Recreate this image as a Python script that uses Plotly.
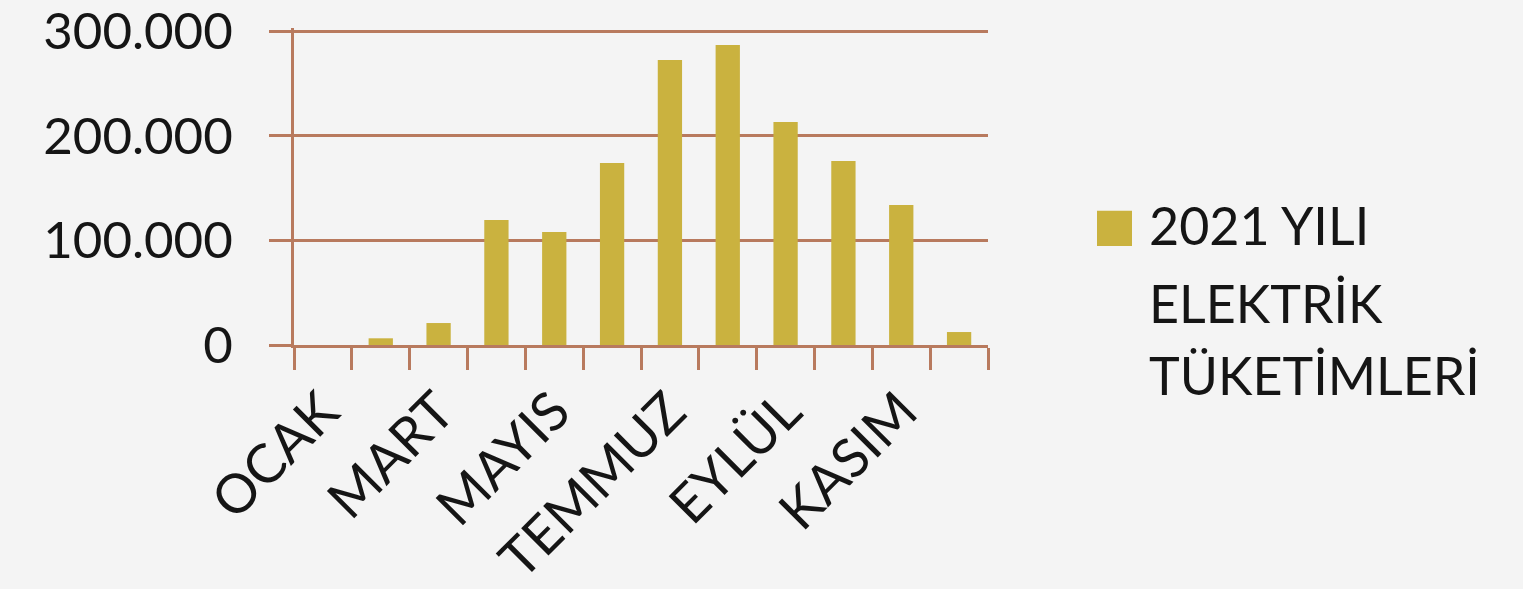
import plotly.graph_objects as go

months = ["OCAK", "ŞUBAT", "MART", "NİSAN", "MAYIS", "HAZİRAN",
          "TEMMUZ", "AĞUSTOS", "EYLÜL", "EKİM", "KASIM", "ARALIK"]
consumption = [0, 6400, 21000, 119500, 108000, 174000,
               272500, 286800, 213200, 175900, 133800, 12400]
tick_labels_x = ["OCAK", "", "MART", "", "MAYIS", "",
                 "TEMMUZ", "", "EYLÜL", "", "KASIM", ""]
y_tickvals = [0, 100000, 200000, 300000]
y_ticktext = ["0", "100.000", "200.000", "300.000"]
series_lines = ["2021 YILI", "ELEKTRİK", "TÜKETİMLERİ"]

BAR = "#CAB23F"
LINE = "#B87A5E"
BG = "#F4F4F4"
FONT = "Lato"
TXT = "#151515"

fig = go.Figure()
fig.add_trace(go.Bar(x=months, y=consumption, marker_color=BAR,
                     marker_line_width=0, name=" ".join(series_lines),
                     showlegend=False))

W, H = 1523, 589
YMAX = 303000
x0_px, x1_px = 294, 988
zero_px, top300_px = 345, 31.5
unit = (zero_px - top300_px) / 300000.0
T = zero_px - YMAX * unit
L, R, B = x0_px, W - x1_px, H - zero_px
pw, ph = W - L - R, H - T - B

def px_x(x):
    return (x - L) / pw

def px_y(y):
    return (H - B - y) / ph

fig.update_layout(
    width=W, height=H,
    margin=dict(l=L, r=R, t=T, b=B, autoexpand=False),
    paper_bgcolor=BG, plot_bgcolor=BG,
    bargap=0.58,
    font=dict(family=FONT, size=52, color=TXT),
    xaxis=dict(
        type="category", tickson="boundaries",
        tickvals=months, ticktext=tick_labels_x, tickangle=-45,
        ticks="outside", ticklen=22, tickwidth=3, tickcolor=LINE,
        showline=True, linecolor=LINE, linewidth=3,
        showgrid=False, zeroline=False,
        ticklabelstandoff=10, ticklabeloverflow="allow",
        tickfont=dict(family=FONT, size=54, color=TXT),
    ),
    yaxis=dict(
        range=[0, YMAX], tickvals=y_tickvals, ticktext=y_ticktext,
        ticks="outside", ticklen=22, tickwidth=3, tickcolor=LINE,
        showline=True, linecolor=LINE, linewidth=3,
        showgrid=True, gridcolor=LINE, gridwidth=3,
        zeroline=False,
        ticklabelstandoff=26, ticklabeloverflow="allow",
        tickfont=dict(family=FONT, size=51, color=TXT),
    ),
)

# legend drawn manually (large square key)
fig.add_shape(type="rect", xref="paper", yref="paper",
              x0=px_x(1097), x1=px_x(1132), y0=px_y(246), y1=px_y(211),
              fillcolor=BAR, line_width=0)
baselines = [243, 321, 393]
for line_text, base in zip(series_lines, baselines):
    fig.add_annotation(xref="paper", yref="paper", x=px_x(1147),
                       y=px_y(base - 18), xanchor="left", yanchor="middle",
                       align="left", text=line_text, showarrow=False,
                       font=dict(family=FONT, size=52, color=TXT))

fig.write_html(
    "out.html",
    config={"displayModeBar": False},
    post_script="document.body.style.margin='0';"
                "document.body.style.background='#F4F4F4';",
)
